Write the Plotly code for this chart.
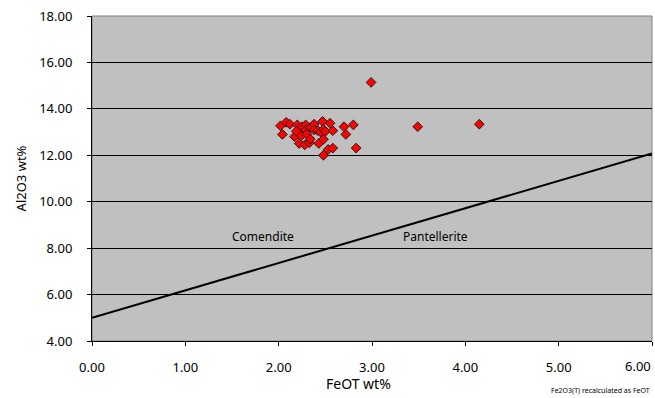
import plotly.graph_objects as go

# Sample data (FeOT wt%, Al2O3 wt%)
feot = [2.02, 2.04, 2.08, 2.12, 2.17, 2.20, 2.22, 2.23, 2.24, 2.25, 2.29, 2.29,
        2.28, 2.30, 2.33, 2.34, 2.38, 2.38, 2.42, 2.43, 2.45, 2.47, 2.48, 2.48,
        2.50, 2.53, 2.55, 2.58, 2.58, 2.48, 2.70, 2.72, 2.80, 2.83, 2.34, 2.19,
        2.99, 3.49, 4.15]
al2o3 = [13.27, 12.90, 13.42, 13.34, 12.80, 13.31, 12.51, 13.03, 12.83, 13.23, 13.31, 13.09,
         12.45, 12.91, 12.54, 13.20, 13.34, 13.09, 13.06, 12.51, 13.00, 13.46, 13.12, 12.69,
         13.03, 12.25, 13.38, 13.06, 12.31, 12.00, 13.23, 12.90, 13.31, 12.31, 12.70, 13.04,
         15.14, 13.23, 13.34]

# Comendite / pantellerite dividing line
line_x = [0.0, 6.0]
line_y = [5.0, 12.08]

x_ticks = [0, 1, 2, 3, 4, 5, 6]
y_ticks = [4, 6, 8, 10, 12, 14, 16, 18]

font = "Noto Sans"

fig = go.Figure()
fig.add_trace(go.Scatter(x=line_x, y=line_y, mode="lines",
                         line=dict(color="black", width=2), hoverinfo="skip"))
fig.add_trace(go.Scatter(x=feot, y=al2o3, mode="markers",
                         marker=dict(symbol="diamond", size=7.5, color="#FF0000",
                                     line=dict(color="#202020", width=1))))

# last x tick label is drawn as an annotation so it stays inside the page
x_ticktext = [f"{v:.2f}" for v in x_ticks[:-1]] + [""]

fig.update_layout(
    width=655, height=398,
    margin=dict(l=92, r=3, t=16, b=57),
    paper_bgcolor="white", plot_bgcolor="#C0C0C0",
    showlegend=False,
    font=dict(family=font, size=12, color="black"),
    xaxis=dict(range=[0, 6], tickvals=x_ticks, ticktext=x_ticktext, automargin=False,
               showgrid=False, zeroline=False, showline=True, linecolor="black", linewidth=1,
               ticks="outside", ticklen=4, tickcolor="black", tickfont=dict(size=13),
               ticklabelstandoff=10),
    yaxis=dict(range=[4, 18], tickvals=y_ticks, ticktext=[f"{v:.2f}" for v in y_ticks],
               automargin=False, ticklabeloverflow="allow",
               showgrid=True, gridcolor="black", gridwidth=1, zeroline=False,
               showline=True, linecolor="black", linewidth=1,
               ticks="outside", ticklen=4, tickcolor="black", tickfont=dict(size=13),
               ticklabelstandoff=12),
    shapes=[dict(type="rect", xref="paper", yref="paper", x0=0, x1=1, y0=0, y1=1,
                 line=dict(color="#808080", width=1), layer="below")],
    annotations=[
        dict(text=f"{x_ticks[-1]:.2f}", xref="x", yref="paper", x=x_ticks[-1], y=-0.077,
             showarrow=False, xanchor="right", yanchor="middle", xshift=1, font=dict(size=13)),
        dict(text="Al2O3 wt%", xref="paper", yref="paper", x=-0.127, y=0.5,
             textangle=-90, showarrow=False, xanchor="center", yanchor="middle",
             font=dict(size=13)),
        dict(text="FeOT wt%", xref="paper", yref="paper", x=0.475, y=-0.167,
             showarrow=False, xanchor="center", yanchor="bottom", font=dict(size=14)),
        dict(text="Fe2O3(T) recalculated as FeOT", xref="paper", yref="paper", x=1.0, y=-0.171,
             showarrow=False, xanchor="right", yanchor="bottom", font=dict(size=7)),
        dict(text="Comendite", x=1.83, y=8.5, showarrow=False, xanchor="center",
             yanchor="middle", font=dict(size=12)),
        dict(text="Pantellerite", x=3.68, y=8.5, showarrow=False, xanchor="center",
             yanchor="middle", font=dict(size=12)),
    ],
)

# remove the default page margin so the figure fills the 655x398 window exactly
fig.write_html("out.html", config={"displayModeBar": False},
               post_script="document.body.style.margin='0';document.body.style.overflow='hidden';")
